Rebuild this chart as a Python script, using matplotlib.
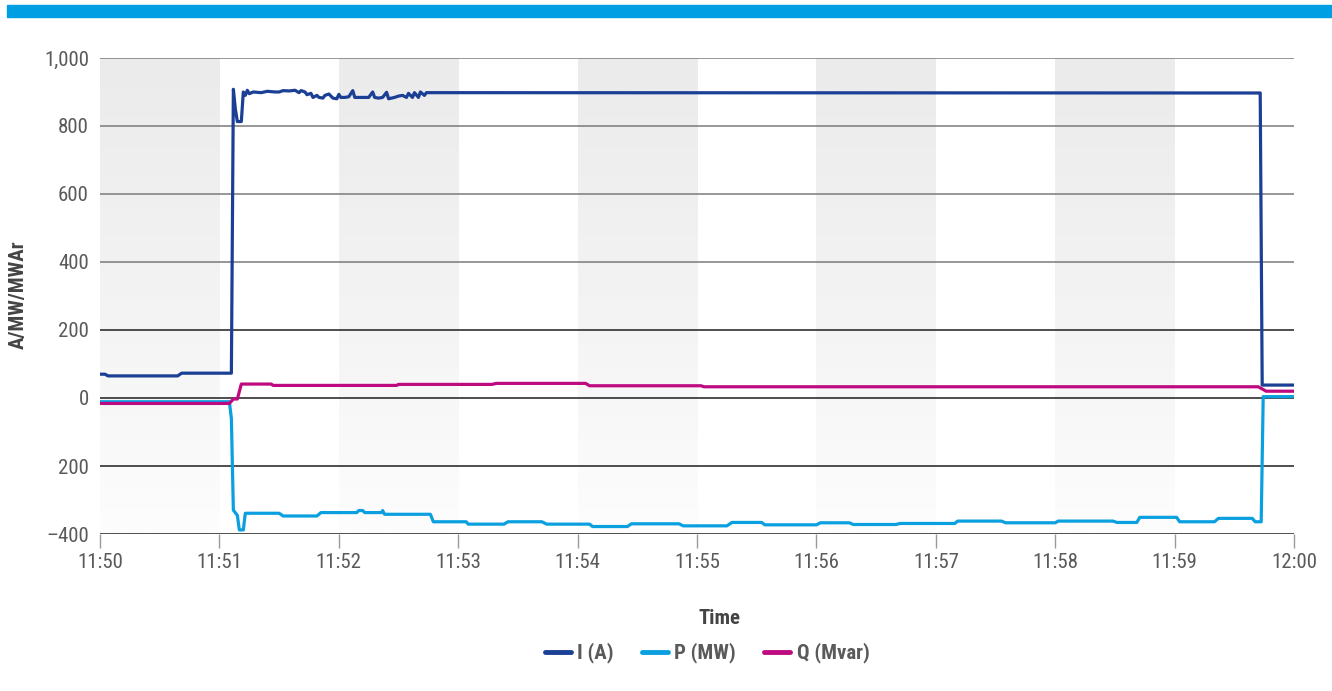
import numpy as np
import matplotlib
matplotlib.use("Agg")
import matplotlib.pyplot as plt
from matplotlib.colors import LinearSegmentedColormap
from matplotlib.patches import Rectangle

plt.rcParams['font.family'] = ['Roboto Condensed', 'Roboto', 'DejaVu Sans']

# time in seconds after 11:50:00
i_t = [0, 2.5, 4, 39, 41, 66, 67, 68, 69, 71, 72, 73, 74, 75, 77, 81, 84, 88, 90, 92,
       95, 98, 100, 101, 103, 104, 106, 107, 109, 110, 112, 113, 115, 117, 119, 120, 121,
       123, 125, 127, 128, 130, 135, 137, 138, 140, 142, 144, 145, 148, 150, 152, 154,
       155, 157, 158, 160, 161, 163, 164, 583, 584, 600]
i_val = [70, 70, 65, 65, 73, 73, 908, 850, 813, 813, 900, 890, 905, 895, 900, 898, 902,
         900, 900, 904, 903, 905, 898, 904, 900, 892, 896, 884, 890, 884, 882, 890, 894,
         882, 880, 893, 884, 884, 886, 904, 884, 884, 884, 900, 884, 882, 884, 899, 880,
         884, 888, 890, 884, 896, 884, 898, 884, 900, 890, 898, 897, 38, 38]

p_t = [0, 65, 66, 67, 69, 70, 72, 73, 90, 92, 109, 111, 129, 130, 132, 133, 141.5, 142,
       143, 166, 167.5, 184, 185, 203, 205, 222, 224.5, 246, 247.5, 265, 267, 291, 293,
       315, 317.5, 332.5, 334, 360, 362, 376.5, 378.5, 400, 402, 429.5, 431, 453, 455,
       480, 481.5, 509, 511, 521, 522.5, 541, 542.5, 560, 562, 579, 580.5, 583.5, 584.5, 600]
p_val = [-11, -11, -60, -330, -345, -388, -388, -339, -339, -347, -347, -337, -337, -331,
         -331, -337, -337, -331, -342, -342, -364, -364, -371, -371, -364, -364, -371,
         -371, -378, -378, -370, -370, -376, -376, -366, -366, -373, -373, -367, -367,
         -372, -372, -369, -369, -362, -362, -367, -367, -362, -362, -366, -366, -351,
         -351, -364, -364, -354, -354, -364, -364, 4, 4]

q_t = [0, 65, 67, 69, 71, 86, 87, 149, 150, 197, 199, 244, 246, 302, 303.5, 582, 586, 600]
q_val = [-16, -16, -3, -3, 41, 41, 37, 37, 40, 40, 43, 43, 36, 36, 33, 33, 20, 20]

tick_sec = [0, 60, 120, 180, 240, 300, 360, 420, 480, 540, 600]
tick_lab = ['11:50', '11:51', '11:52', '11:53', '11:54', '11:55', '11:56', '11:57',
            '11:58', '11:59', '12:00']
y_ticks = [1000, 800, 600, 400, 200, 0, -200, -400]
y_labs = ['1,000', '800', '600', '400', '200', '0', '200', '\u2013400']
shade_start = [0, 120, 240, 360, 480]

c_i = '#1b3f94'
c_p = '#0aa0e0'
c_q = '#be0a80'
txt = '#5a5a5a'

fig = plt.figure(figsize=(13.32, 6.91), dpi=100)
ax = fig.add_axes([0.0751, 0.2272, 0.8964, 0.6889])
ax.set_xlim(0, 600)
ax.set_ylim(-400, 1000)

# shaded minute bands with a vertical fade
cmap = LinearSegmentedColormap.from_list('band', ['#ebebeb', '#f3f3f3', '#fdfdfd'])
grad = np.linspace(0, 1, 256).reshape(-1, 1)
for s in shade_start:
    ax.imshow(grad, cmap=cmap, aspect='auto', extent=[s, s + 60, -400, 1000],
              origin='upper', zorder=0, interpolation='bilinear')

for yv in y_ticks:
    col = '#7a7a7a' if yv > 200 else '#1e1e1e'
    ax.axhline(yv, color=col, lw=1.1, zorder=1)

ax.plot(i_t, i_val, color=c_i, lw=2.3, solid_joinstyle='round', solid_capstyle='round',
        zorder=3, label='I (A)')
ax.plot(p_t, p_val, color=c_p, lw=2.3, solid_joinstyle='round', solid_capstyle='round',
        zorder=3, label='P (MW)')
ax.plot(q_t, q_val, color=c_q, lw=2.3, solid_joinstyle='round', solid_capstyle='round',
        zorder=3, label='Q (Mvar)')

for sp in ax.spines.values():
    sp.set_visible(False)

ax.set_yticks(y_ticks)
ax.set_yticklabels(y_labs)
ax.set_xticks(tick_sec)
ax.set_xticklabels(tick_lab)
ax.tick_params(axis='y', length=0, pad=8, labelsize=15, labelcolor=txt)
ax.tick_params(axis='x', length=10, width=1, color='#9a9a9a', pad=4, labelsize=15,
               labelcolor=txt)

fig.text(0.5405, 1 - 618 / 691, 'Time', ha='center', va='center', fontsize=15,
         fontweight='bold', color='#444444')
fig.text(18 / 1332, 0.573, 'A/MW/MWAr', ha='center', va='center', rotation=90,
         fontsize=15, fontweight='bold', color='#444444')

leg = fig.legend(loc='center', bbox_to_anchor=(0.531, 1 - 653 / 691), ncol=3, frameon=False,
                 fontsize=15, handlelength=1.25, columnspacing=1.35, handletextpad=0.3)
for line in leg.get_lines():
    line.set_linewidth(3.5)
for t in leg.get_texts():
    t.set_color(txt)
    t.set_fontweight('bold')

fig.patches.append(Rectangle((7 / 1332, 1 - 17 / 691), 1, 12 / 691, transform=fig.transFigure,
                             color='#009fe3', zorder=0))

fig.savefig('out.png', dpi=100)
